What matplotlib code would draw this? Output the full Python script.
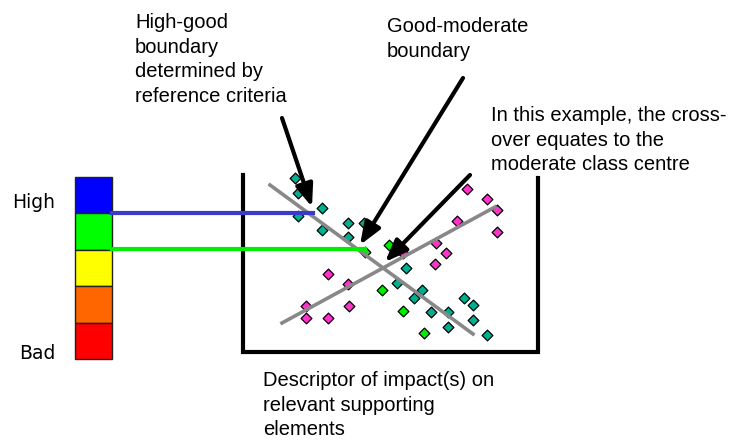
import matplotlib.pyplot as plt
from matplotlib.patches import Rectangle

# class scale, top to bottom
class_colours = ["#0000ff", "#00ff00", "#ffff00", "#ff6600", "#ff0000"]

# scatter of sites (diagram pixel units)
teal_x = [295, 298, 322, 298, 322, 348, 364, 348, 406, 397, 422, 414, 431, 448, 448, 464, 473, 473, 487]
teal_y = [178, 193, 208, 216, 230, 223, 223, 237, 268, 283, 290, 298, 312, 312, 327, 298, 305, 320, 335]
green_x = [389, 365, 382, 403, 424]
green_y = [245, 252, 290, 311, 333]
pink_x = [467, 487, 497, 457, 497, 436, 446, 435, 403, 328, 348, 306, 306, 328, 349]
pink_y = [189, 199, 210, 221, 232, 243, 253, 264, 253, 274, 284, 306, 318, 318, 306]

# regression-like lines
line_down = ([270, 473], [185, 334])
line_up = ([282, 495], [323, 207])

fig = plt.figure(figsize=(7.4, 4.41), dpi=100)
ax = fig.add_axes([0, 0, 1, 1])
ax.set_xlim(0, 740)
ax.set_ylim(441, 0)
ax.axis("off")

# colour bar
top, h = 177, 36.4
for i, c in enumerate(class_colours):
    ax.add_patch(Rectangle((75, top + i * h), 37, h, facecolor=c, edgecolor="#222222", lw=1, zorder=2))

ax.text(12, 203, "High", fontsize=13.5, family="DejaVu Sans", va="center")
ax.text(19, 359, "Bad", fontsize=13.5, family="DejaVu Sans", va="baseline")

# box (open top)
ax.plot([243, 243, 538, 538], [175, 352, 352, 178], color="black", lw=3, solid_joinstyle="miter", zorder=2)

ax.scatter(teal_x, teal_y, marker="D", s=30, c="#00b090", edgecolors="black", linewidths=0.9, zorder=3)
ax.scatter(green_x, green_y, marker="D", s=30, c="#00ee00", edgecolors="black", linewidths=0.9, zorder=3)
ax.scatter(pink_x, pink_y, marker="D", s=30, c="#ff33cc", edgecolors="black", linewidths=0.9, zorder=3)

ax.plot(*line_down, color="#888888", lw=2.6, zorder=4)
ax.plot(*line_up, color="#888888", lw=2.6, zorder=4)

# boundaries carried across to the scale
ax.plot([112, 313], [213, 213], color="#3a3acc", lw=3, zorder=4)
ax.plot([112, 365], [249, 249], color="#00ee00", lw=3, zorder=4)

arrows = [((282, 118), (312, 207)), ((463, 78), (360, 245)), ((470, 175), (385, 262))]
for start, end in arrows:
    ax.annotate("", xy=end, xytext=start,
                arrowprops=dict(arrowstyle="-|>,head_length=0.9,head_width=0.35", lw=3, color="black",
                                shrinkA=0, shrinkB=0, mutation_scale=15), zorder=5)

tf = dict(fontsize=14.5, family="Liberation Sans", va="top", linespacing=1.38)
ax.text(135, 13, "High-good\nboundary\ndetermined by\nreference criteria", **tf)
ax.text(387, 17, "Good-moderate\nboundary", **tf)
ax.text(491, 106, "In this example, the cross-\nover equates to the\nmoderate class centre", **tf)
ax.text(263, 371, "Descriptor of impact(s) on\nrelevant supporting\nelements", **tf)

fig.savefig("out.png", dpi=100)
